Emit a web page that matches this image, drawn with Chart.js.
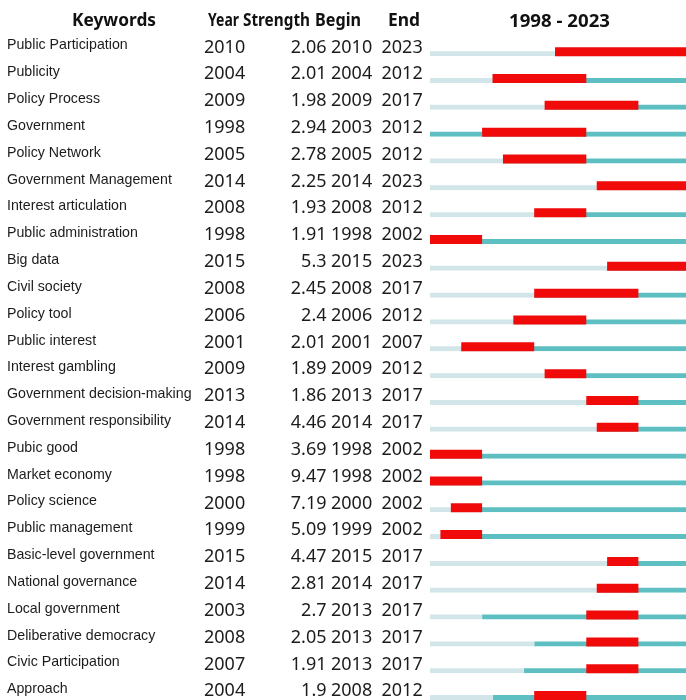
<!DOCTYPE html>
<html>
<head>
<meta charset="utf-8">
<title>Top keywords with the strongest citation bursts, 1998 - 2023</title>
<script src="https://cdn.jsdelivr.net/npm/chart.js@4/dist/chart.umd.min.js"></script>
<style>
  html, body { margin: 0; padding: 0; background: #fff; overflow: hidden; }
  #wrap { position: relative; width: 686px; height: 720px; }
</style>
</head>
<body>
<div id="wrap"><canvas id="chart-bursts" width="686" height="720"></canvas></div>
<script>
const keywords = [
  'Public Participation', 'Publicity', 'Policy Process', 'Government', 'Policy Network',
  'Government Management', 'Interest articulation', 'Public administration', 'Big data',
  'Civil society', 'Policy tool', 'Public interest', 'Interest gambling',
  'Government decision-making', 'Government responsibility', 'Pubic good', 'Market economy',
  'Policy science', 'Public management', 'Basic-level government', 'National governance',
  'Local government', 'Deliberative democracy', 'Civic Participation', 'Approach'
];
const firstYears  = [2010, 2004, 2009, 1998, 2005, 2014, 2008, 1998, 2015, 2008, 2006, 2001, 2009,
                     2013, 2014, 1998, 1998, 2000, 1999, 2015, 2014, 2003, 2008, 2007, 2004];
const strengths   = ['2.06', '2.01', '1.98', '2.94', '2.78', '2.25', '1.93', '1.91', '5.3', '2.45',
                     '2.4', '2.01', '1.89', '1.86', '4.46', '3.69', '9.47', '7.19', '5.09', '4.47',
                     '2.81', '2.7', '2.05', '1.91', '1.9'];
const burstBegins = [2010, 2004, 2009, 2003, 2005, 2014, 2008, 1998, 2015, 2008, 2006, 2001, 2009,
                     2013, 2014, 1998, 1998, 2000, 1999, 2015, 2014, 2013, 2013, 2013, 2008];
const burstEnds   = [2023, 2012, 2017, 2012, 2012, 2023, 2012, 2002, 2023, 2017, 2012, 2007, 2012,
                     2017, 2017, 2002, 2002, 2002, 2002, 2017, 2017, 2017, 2017, 2017, 2012];
const headers = ['Keywords', 'Year', 'Strength', 'Begin', 'End'];
const rangeStart = 1998;
const rangeEnd = 2023;

const palette = {
  ink: '#1c1c1c',
  red: '#f00a0a',
  teal: '#5dbfc1',
  pale: '#d2e6ea'
};

// draw text squeezed/stretched to a given width (the header face is narrower than Noto Sans)
function fitText(ctx, text, left, width, baseline) {
  const w = ctx.measureText(text).width;
  ctx.save();
  ctx.translate(left, baseline);
  ctx.scale(width / w, 1);
  ctx.textAlign = 'left';
  ctx.fillText(text, 0, 0);
  ctx.restore();
}

// table columns drawn on the left side of the canvas
const tablePlugin = {
  id: 'burstTable',
  afterDraw(chart) {
    const ctx = chart.ctx;
    const y = chart.scales.y;
    ctx.save();
    ctx.fillStyle = '#111';
    ctx.textBaseline = 'alphabetic';

    // header: [left, width] of each title
    const slots = [[72, 84], [208, 31], [243, 67], [315, 46], [388, 32]];
    ctx.font = "bold 18px 'Noto Sans'";
    headers.forEach((h, i) => fitText(ctx, h, slots[i][0], slots[i][1], 26));
    fitText(ctx, rangeStart + ' - ' + rangeEnd, 509, 101, 26.5);

    // rows
    keywords.forEach((kw, i) => {
      const cy = y.getPixelForValue(i);
      ctx.fillStyle = palette.ink;
      ctx.font = "14.2px 'Liberation Sans', Arial";
      ctx.textAlign = 'left';
      ctx.fillText(kw, 7, cy - 2.3);

      ctx.font = "18px 'Noto Sans'";
      ctx.fillText(String(firstYears[i]), 204, cy + 0.8);
      ctx.textAlign = 'right';
      ctx.fillText(strengths[i], 326.5, cy + 0.8);
      ctx.textAlign = 'left';
      ctx.fillText(String(burstBegins[i]), 331, cy + 0.8);
      ctx.fillText(String(burstEnds[i]), 381.5, cy + 0.8);
    });
    ctx.restore();
  }
};

// thin timeline = 9px bar whose top 4px is a white border, so it sits on the red bar's bottom edge
const thinLine = {
  barThickness: 9,
  borderWidth: { top: 4, right: 0, bottom: 0, left: 0 },
  borderColor: '#ffffff',
  borderSkipped: false,
  grouped: false,
  inflateAmount: 0
};

new Chart(document.getElementById('chart-bursts'), {
  type: 'bar',
  data: {
    labels: keywords,
    datasets: [
      {
        label: 'Burst',
        data: burstBegins.map((b, i) => [b, burstEnds[i] + 1]),
        backgroundColor: palette.red,
        barThickness: 9,
        borderWidth: 0,
        grouped: false,
        inflateAmount: 0
      },
      Object.assign({
        label: 'Present',
        data: firstYears.map(yr => [yr, rangeEnd + 1]),
        backgroundColor: palette.teal
      }, thinLine),
      Object.assign({
        label: 'Before',
        data: firstYears.map(yr => [rangeStart, yr]),
        backgroundColor: palette.pale
      }, thinLine)
    ]
  },
  options: {
    indexAxis: 'y',
    responsive: false,
    animation: false,
    layout: { padding: { left: 430, right: 0, top: 38.3, bottom: 11 } },
    plugins: { legend: { display: false }, tooltip: { enabled: false } },
    scales: {
      // the picture is cropped at the right edge, a little before the end of 2023
      x: { type: 'linear', min: rangeStart, max: 2022.57, display: false },
      y: { type: 'category', display: false, offset: true, grid: { display: false } }
    }
  },
  plugins: [tablePlugin]
});
</script>
</body>
</html>
